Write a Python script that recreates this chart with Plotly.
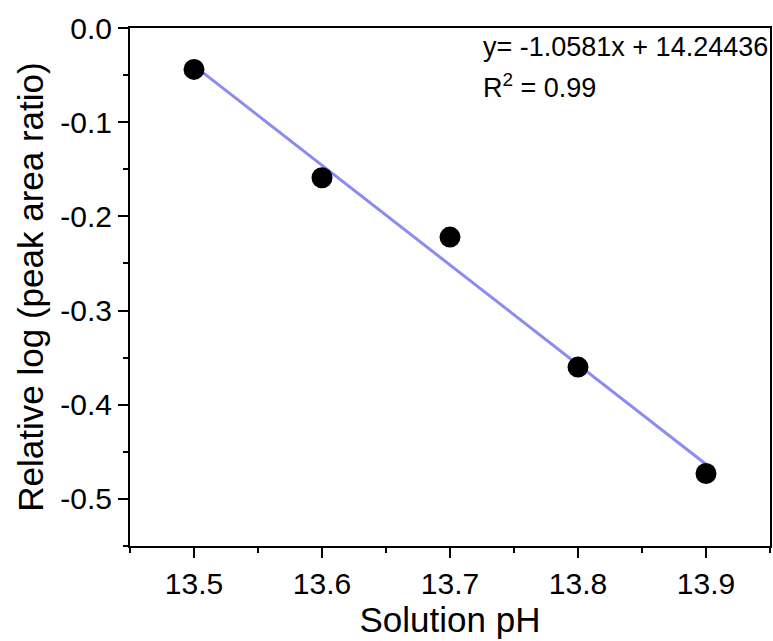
import plotly.graph_objects as go

ph = [13.5, 13.6, 13.7, 13.8, 13.9]
rel_log = [-0.044, -0.159, -0.222, -0.360, -0.473]
slope = -1.0581
intercept = 14.24436
fit_x = [13.5, 13.9]
fit_y = [slope * v + intercept for v in fit_x]

x_ticks = [13.5, 13.6, 13.7, 13.8, 13.9]
y_ticks = [0.0, -0.1, -0.2, -0.3, -0.4, -0.5]

font = "Arial, Liberation Sans, sans-serif"

fig = go.Figure()
fig.add_trace(go.Scatter(x=fit_x, y=fit_y, mode="lines",
                         line=dict(color="#8c8cf0", width=3), showlegend=False))
fig.add_trace(go.Scatter(x=ph, y=rel_log, mode="markers",
                         marker=dict(color="black", size=21), showlegend=False))

L, R, T, B = 130, 772, 27.5, 546
W, H = R - L, B - T

fig.add_annotation(xref="paper", yref="paper", x=(482 - L) / W, y=1 - (47 - T) / H,
                   xanchor="left", yanchor="middle", showarrow=False,
                   text="y= -1.0581x + 14.24436", font=dict(family=font, size=27, color="black"))
fig.add_annotation(xref="paper", yref="paper", x=(482 - L) / W, y=1 - (86 - T) / H,
                   xanchor="left", yanchor="middle", showarrow=False,
                   text="R<sup>2</sup> = 0.99", font=dict(family=font, size=27, color="black"))

axis_common = dict(showline=True, mirror=True, linecolor="black", linewidth=2,
                   ticks="outside", ticklen=10, tickwidth=2, tickcolor="black",
                   showgrid=False, zeroline=False,
                   minor=dict(ticks="outside", ticklen=5, tickwidth=2, tickcolor="black", dtick=0.05))

fig.update_xaxes(range=[13.45, 13.95], tickvals=x_ticks, ticktext=[f"{v:.1f}" for v in x_ticks],
                 title=dict(text="Solution pH", font=dict(family=font, size=35, color="black"), standoff=3),
                 **axis_common)
fig.update_yaxes(range=[-0.55, 0.0], tickvals=y_ticks, ticktext=[f"{v:.1f}" for v in y_ticks],
                 title=dict(text="Relative log (peak area ratio)", font=dict(family=font, size=35, color="black"), standoff=6),
                 **axis_common)
fig.update_xaxes(tickfont=dict(family=font, size=30, color="black"))
fig.update_yaxes(tickfont=dict(family=font, size=30, color="black"))

fig.update_layout(width=773, height=641, margin=dict(l=L, r=773 - R, t=T, b=641 - B),
                  font=dict(family=font, color="black"),
                  plot_bgcolor="white", paper_bgcolor="white")

fig.write_html("out.html")
